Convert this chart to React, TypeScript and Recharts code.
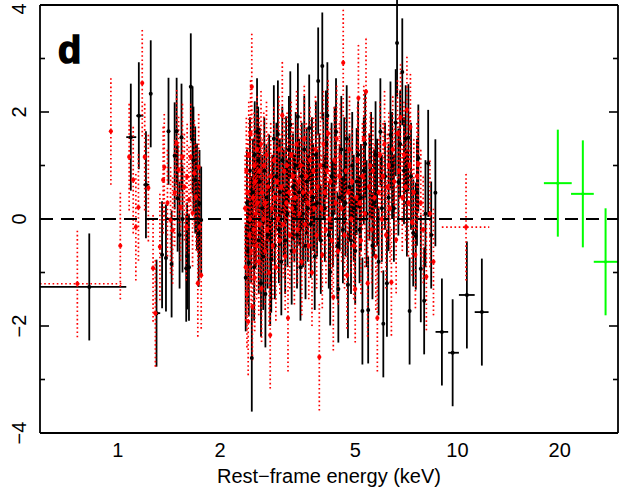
import React from 'react';
import { ScatterChart, Scatter, XAxis, YAxis, ErrorBar, ReferenceLine } from 'recharts';

const FONT = '"Liberation Sans", Arial, Helvetica, sans-serif';

// residuals are in units of sigma: every error bar is +/- 1
const RESID_SIGMA = 1;

// ---- black (solid) data group ----
const blackEnergy = [
  1.25, 1.35, 1.386, 1.41, 1.44, 1.47, 1.49, 1.50, 1.52, 1.54, 1.55, 1.59, 1.60, 1.62, 1.64, 1.66, 1.67, 1.69, 1.71, 1.73, 1.74, 1.76,
  2.38, 2.40, 2.42, 2.43, 2.45, 2.47, 2.48, 2.50, 2.52, 2.53, 2.55, 2.57, 2.59, 2.60, 2.62, 2.64, 2.66, 2.68, 2.70, 2.72, 2.74, 2.76,
  2.79, 2.81, 2.83, 2.85, 2.88, 2.90, 2.93, 2.96, 2.98, 3.00, 3.03, 3.05, 3.08, 3.11, 3.13, 3.16, 3.19, 3.22, 3.25, 3.28, 3.31, 3.34,
  3.37, 3.39, 3.42, 3.45, 3.48, 3.51, 3.54, 3.57, 3.60, 3.63, 3.66, 3.70, 3.73, 3.76, 3.80, 3.83, 3.86, 3.89, 3.92, 3.96, 4.00, 4.03,
  4.07, 4.10, 4.14, 4.18, 4.22, 4.26, 4.30, 4.35, 4.39, 4.43, 4.46, 4.50, 4.55, 4.60, 4.64, 4.68, 4.72, 4.76, 4.81, 4.86, 4.90, 4.95,
  5.00, 5.05, 5.10, 5.15, 5.20, 5.25, 5.30, 5.35, 5.40, 5.46, 5.51, 5.57, 5.62, 5.68, 5.74, 5.80, 5.86, 5.93, 5.99, 6.05, 6.12, 6.20,
  6.27, 6.35, 6.42, 6.50, 6.58, 6.64, 6.70, 6.78, 6.88, 6.96, 7.04, 7.10, 7.17, 7.23, 7.30, 7.41, 7.54, 7.60, 7.67, 7.80, 7.98, 8.05,
  8.20, 8.37, 8.61,
];
const blackResid = [
  2.34, -0.67, -0.73, 1.64, -0.84, 1.18, 1.64, 0.39, -0.30, 1.53, 0.0, -0.92, -0.69, -0.90, 2.47, 1.48, 1.10, 0.73, 0.41, -0.27, 0.29, -0.02,
  -1.1, 0.3, -0.6, -0.82, 0.9, -0.2, -2.6, 0.5, -0.9, 1.2, 0.1, 1.63, 1.1, -0.4, 0.7, -1.2, 0.2, -0.7, 0.9, -1.4, 0.4, -0.3,
  0.58, -1.0, -0.75, 0.2, 1.5, -0.5, 0.8, 1.59, -0.2, 0.5, -0.8, 1.1, 0.3, -0.4, 0.92, 0.1, 1.3, 1.76, -0.6, 0.6, 0.2, 1.0,
  -0.3, 1.91, 0.5, -0.9, 0.8, 0.1, 1.3, -0.5, 0.7, 0.2, 1.70, -0.1, 0.9, 0.4, -0.7, 1.2, 0.3, 2.58, 0.6, -0.4, 2.86, 1.0,
  0.2, 1.4, 1.93, -0.3, -0.99, 0.8, 0.1, 1.1, 1.63, -0.5, -1.31, 0.4, 1.3, -0.2, 0.9, 0.3, 1.5, -1.23, 0.6, -0.4, 1.0, 0.2,
  -0.6, 0.7, 1.2, -0.2, 0.4, -1.72, 0.9, 1.4, 0.1, -1.70, 0.6, 1.0, -0.5, 0.3, 1.2, 0.5, -0.8, 1.63, 0.2, -1.96, 0.8, -1.2,
  0.4, 1.57, 1.0, 0.2, 1.8, 3.29, 0.69, 1.4, 2.75, 0.9, 1.5, 0.3, 1.52, -1.72, 0.8, -0.26, -0.32, 0.5, 1.14, -0.93, -1.53, 0.1,
  1.04, -0.3, 0.49,
];
// black points with visible energy bins
const blackWideEnergy = [0.824, 1.092, 1.153, 1.21, 1.30, 9.0, 9.68, 10.66, 11.8];
const blackWideLow = [0.59, 1.059, 1.133, 1.189, 1.28, 8.62, 9.39, 10.1, 11.24];
const blackWideHigh = [1.059, 1.133, 1.189, 1.238, 1.333, 9.39, 10.1, 11.24, 12.35];
const blackWideResid = [-1.27, 1.53, 1.93, 0.64, -1.76, -2.11, -2.5, -1.42, -1.74];

// ---- red (dotted) data group ----
const redEnergy = [
  0.954, 1.017, 1.08, 1.11, 1.13, 1.15, 1.18, 1.20, 1.23, 1.27, 1.29, 1.33, 1.36, 1.37, 1.40, 1.43, 1.45, 1.47, 1.49, 1.51, 1.53,
  1.55, 1.57, 1.59, 1.60, 1.62, 1.64, 1.66, 1.68, 1.70, 1.72, 1.73, 1.74, 1.76,
  2.37, 2.38, 2.39, 2.40, 2.41, 2.42, 2.43, 2.44, 2.45, 2.46, 2.47, 2.48, 2.49, 2.50, 2.51, 2.52, 2.53, 2.54, 2.55, 2.56, 2.57, 2.58,
  2.60, 2.61, 2.62, 2.64, 2.65, 2.66, 2.68, 2.69, 2.71, 2.72, 2.74, 2.75, 2.77, 2.79, 2.81, 2.82, 2.84, 2.86, 2.88, 2.90, 2.92, 2.94,
  2.96, 2.98, 3.00, 3.03, 3.05, 3.07, 3.09, 3.11, 3.13, 3.15, 3.17, 3.19, 3.21, 3.24, 3.26, 3.28, 3.31, 3.33, 3.36, 3.38, 3.41, 3.43,
  3.46, 3.48, 3.51, 3.54, 3.56, 3.59, 3.62, 3.65, 3.68, 3.70, 3.73, 3.76, 3.79, 3.82, 3.85, 3.88, 3.92, 3.95, 3.98, 4.00, 4.03, 4.06,
  4.10, 4.13, 4.16, 4.20, 4.23, 4.27, 4.31, 4.34, 4.38, 4.41, 4.45, 4.49, 4.52, 4.56, 4.61, 4.65, 4.69, 4.73, 4.77, 4.81, 4.86, 4.90,
  4.95, 5.00, 5.04, 5.08, 5.11, 5.15, 5.20, 5.25, 5.30, 5.34, 5.38, 5.44, 5.49, 5.54, 5.59, 5.64, 5.70, 5.75, 5.81, 5.86, 5.92, 5.98,
  6.04, 6.10, 6.16, 6.22, 6.28, 6.33, 6.39, 6.45, 6.52, 6.60, 6.66, 6.73, 6.80, 6.88, 6.96, 7.04, 7.10, 7.17, 7.23, 7.27, 7.35, 7.44,
  7.52, 7.60, 7.67, 7.80, 7.93, 8.10, 8.30, 8.50,
];
const redResid = [
  1.64, -0.5, 1.16, 0.73, -0.15, 0.22, 2.54, 1.16, 0.58, -0.92, -1.76, -0.52, 0.73, 0.97, 0.3, -0.02, -0.21, 0.49, 1.42, 0.92, 0.22,
  1.16, 0.6, -0.15, 0.79, 0.36, 1.16, 0.11, 0.86, 0.41, -1.20, 0.97, -0.15, -1.05,
  0.2, -0.9, 0.9, -1.4, 0.5, -1.92, 1.2, -0.3, 0.0, 1.6, -0.6, 2.47, -1.64, 0.4, -0.2, 1.0, -1.1, 0.7, 0.1, -0.5, 1.3, 0.3,
  -0.8, 0.9, -0.1, 1.4, -1.3, 0.5, 0.0, 1.0, -0.6, 0.3, 1.2, -0.2, 0.6, -1.0, -2.17, 0.8, 0.2, -0.5, 1.1, 0.4, -0.9, 0.7,
  0.0, 1.3, -0.4, 0.6, 1.94, -0.1, 0.9, -0.7, 0.3, 1.0, -1.85, 0.5, -0.3, 1.2, 0.2, 0.8, -0.6, 0.4, 1.4, -0.2, 0.7, 0.1,
  1.0, -0.8, 0.5, 1.5, -0.1, 0.8, 0.3, -0.5, 1.1, 0.5, -1.0, 0.9, 0.2, 1.3, -0.3, 0.6, -2.58, 1.0, 0.2, -0.67, 1.4, 0.5,
  -0.2, 0.9, 1.6, 0.0, 0.7, -0.4, -1.46, 1.1, 0.3, 1.5, -0.6, 0.8, 1.16, 0.2, 2.92, -0.3, 0.9, -1.05, 0.5, 1.3, 0.0, 0.7,
  -0.5, -1.31, 0.4, 1.1, 2.26, 0.3, -0.4, 0.8, 1.5, 0.1, 2.38, -1.2, 0.6, 1.0, -0.2, 0.9, 0.4, -0.7, -1.85, 0.5, 1.2, 0.0,
  0.8, 1.4, -0.3, 0.6, 1.0, 0.2, -1.18, 1.3, 0.7, -0.39, 1.6, 0.9, 1.9, 0.4, 1.2, 0.6, 2.04, 0.3, 1.0, 1.72, -0.06, 0.5,
  -0.67, 0.8, 1.03, 0.3, -0.2, -1.08, 0.1, -0.8,
];
const redWideEnergy = [0.76, 10.6];
const redWideLow = [0.59, 9.0];
const redWideHigh = [1.04, 12.4];
const redWideResid = [-1.21, -0.15];

// ---- green data group ----
const greenEnergy = [19.75, 23.4, 27.3];
const greenLow = [17.97, 21.6, 25.2];
const greenHigh = [21.7, 25.2, 29.7];
const greenResid = [0.67, 0.47, -0.8];

// ---- axes ----
const X_DOMAIN = [0.59, 29.7];
const Y_DOMAIN = [-4, 4];
const xMajorTicks = [1, 2, 5, 10, 20];
const xMinorTicks = [0.6, 0.7, 0.8, 0.9, 3, 4, 6, 7, 8, 9];
const yMajorTicks = [-4, -2, 0, 2, 4];
const yMinorTicks = [-3, -1, 1, 3];

const toPoints = (e: number[], r: number[]) => e.map((x, i) => ({ x, y: r[i], ey: RESID_SIGMA }));
const toWidePoints = (e: number[], lo: number[], hi: number[], r: number[]) =>
  e.map((x, i) => ({ x, y: r[i], ey: RESID_SIGMA, ex: [x - lo[i], hi[i] - x] }));

const blackData = toPoints(blackEnergy, blackResid);
const blackWideData = toWidePoints(blackWideEnergy, blackWideLow, blackWideHigh, blackWideResid);
const redData = toPoints(redEnergy, redResid);
const redWideData = toWidePoints(redWideEnergy, redWideLow, redWideHigh, redWideResid);
const greenData = toWidePoints(greenEnergy, greenLow, greenHigh, greenResid);

const fmt = (v: number) => (v < 0 ? '\u2212' + Math.abs(v) : String(v));

const XTick = (props: any) => {
  const { x, y, payload } = props;
  return (
    <text x={x} y={y} dy="0.71em" textAnchor="middle" fontSize={20} fontFamily={FONT} fill="#000">
      {fmt(payload.value)}
    </text>
  );
};

const YTick = (props: any) => {
  const { x, y, payload } = props;
  return (
    <text x={x} y={y} transform={`rotate(-90 ${x} ${y})`} textAnchor="middle" fontSize={20} fontFamily={FONT} fill="#000">
      {fmt(payload.value)}
    </text>
  );
};

const EmptyTick = () => <g />;

const dot = (color: string, r: number) => (p: any) => <circle cx={p.cx} cy={p.cy} r={r} fill={color} />;

const frame = { stroke: '#000', strokeWidth: 1.8 };
const tickStyle = { stroke: '#000', strokeWidth: 1.6 };

const xCommon = { type: 'number' as const, scale: 'log' as const, domain: X_DOMAIN, allowDataOverflow: true };
const yCommon = { type: 'number' as const, domain: Y_DOMAIN, allowDataOverflow: true };
// tick-only axes: mirrored inward, practically zero thickness so they do not stack
const xTickAxis = { ...xCommon, mirror: true, tick: EmptyTick, height: 0.01, tickLine: tickStyle };
const yTickAxis = { ...yCommon, mirror: true, tick: EmptyTick, width: 0.01, tickLine: tickStyle };

const RED_DASH = '1.6 2.6';

export default function App() {
  return (
    <div style={{ position: 'absolute', left: 0, top: 0, width: 621, height: 487, background: '#fff' }}>
      <ScatterChart width={621} height={487} margin={{ top: 5, right: 3, bottom: 0, left: 0 }}>
        <XAxis
          xAxisId="x"
          dataKey="x"
          {...xCommon}
          ticks={xMajorTicks}
          tickLine={false}
          tickSize={0}
          tickMargin={10}
          axisLine={frame}
          height={54}
          tick={<XTick />}
          label={{ value: 'Rest\u2212frame energy (keV)', position: 'insideBottom', offset: 4, fontSize: 20, fill: '#000', fontFamily: FONT }}
        />
        <XAxis xAxisId="xbM" {...xTickAxis} ticks={xMajorTicks} tickSize={9} axisLine={false} />
        <XAxis xAxisId="xbm" {...xTickAxis} ticks={xMinorTicks} tickSize={5} axisLine={false} />
        <XAxis xAxisId="xtM" orientation="top" {...xTickAxis} ticks={xMajorTicks} tickSize={9} axisLine={frame} />
        <XAxis xAxisId="xtm" orientation="top" {...xTickAxis} ticks={xMinorTicks} tickSize={5} axisLine={false} />

        <YAxis
          yAxisId="y"
          dataKey="y"
          {...yCommon}
          ticks={yMajorTicks}
          tickLine={false}
          tickSize={0}
          tickMargin={14}
          axisLine={frame}
          width={40}
          tick={<YTick />}
        />
        <YAxis yAxisId="ylM" {...yTickAxis} ticks={yMajorTicks} tickSize={9} axisLine={false} />
        <YAxis yAxisId="ylm" {...yTickAxis} ticks={yMinorTicks} tickSize={5} axisLine={false} />
        <YAxis yAxisId="yrM" orientation="right" {...yTickAxis} ticks={yMajorTicks} tickSize={9} axisLine={frame} />
        <YAxis yAxisId="yrm" orientation="right" {...yTickAxis} ticks={yMinorTicks} tickSize={5} axisLine={false} />

        <Scatter xAxisId="x" yAxisId="y" data={blackData} isAnimationActive={false} shape={dot('#000', 2)}>
          <ErrorBar dataKey="ey" direction="y" width={0} stroke="#000" strokeWidth={1.8} />
        </Scatter>
        <Scatter xAxisId="x" yAxisId="y" data={blackWideData} isAnimationActive={false} shape={dot('#000', 2)}>
          <ErrorBar dataKey="ey" direction="y" width={0} stroke="#000" strokeWidth={1.8} />
          <ErrorBar dataKey="ex" direction="x" width={0} stroke="#000" strokeWidth={1.8} />
        </Scatter>
        <Scatter xAxisId="x" yAxisId="y" data={redData} isAnimationActive={false} shape={dot('#ff0000', 2.1)}>
          <ErrorBar dataKey="ey" direction="y" width={0} stroke="#ff0000" strokeWidth={1.7} strokeDasharray={RED_DASH} />
        </Scatter>
        <Scatter xAxisId="x" yAxisId="y" data={redWideData} isAnimationActive={false} shape={dot('#ff0000', 2.1)}>
          <ErrorBar dataKey="ey" direction="y" width={0} stroke="#ff0000" strokeWidth={1.7} strokeDasharray={RED_DASH} />
          <ErrorBar dataKey="ex" direction="x" width={0} stroke="#ff0000" strokeWidth={1.7} strokeDasharray={RED_DASH} />
        </Scatter>
        <Scatter xAxisId="x" yAxisId="y" data={greenData} isAnimationActive={false} shape={dot('#00ff00', 1.6)}>
          <ErrorBar dataKey="ey" direction="y" width={0} stroke="#00ff00" strokeWidth={2} />
          <ErrorBar dataKey="ex" direction="x" width={0} stroke="#00ff00" strokeWidth={2} />
        </Scatter>

        <ReferenceLine xAxisId="x" yAxisId="y" y={0} stroke="#000" strokeWidth={1.8} strokeDasharray="13 8" />
      </ScatterChart>
      <svg width={621} height={487} style={{ position: 'absolute', left: 0, top: 0, pointerEvents: 'none' }}>
        <text x={58} y={63} fontSize={38} fontWeight={700} fontFamily={FONT} fill="#000" stroke="#000" strokeWidth={1.5}>
          d
        </text>
      </svg>
    </div>
  );
}
